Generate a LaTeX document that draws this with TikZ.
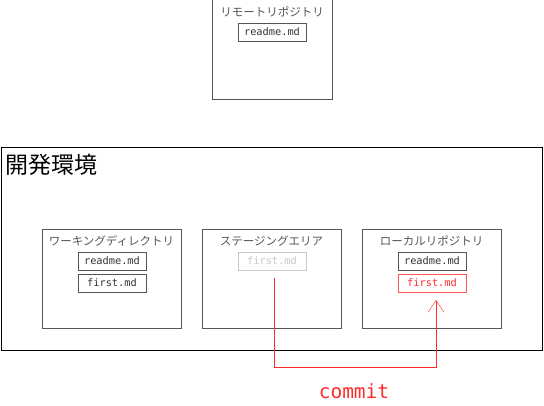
\documentclass[tikz,border=0pt]{standalone}
\usepackage{fontspec}
\setmainfont{Noto Sans CJK JP}
\newfontfamily\codefont{DejaVu Sans Mono}
\usetikzlibrary{arrows.meta,calc}
\definecolor{boxgray}{HTML}{555555}
\definecolor{fadegray}{HTML}{C8C8C8}
\definecolor{commitred}{HTML}{FF2A2A}
\tikzset{
  area/.style={draw=boxgray, minimum width=139pt, minimum height=99pt, inner sep=0pt},
  areatitle/.style={text=boxgray, font=\fontsize{11.5}{12}\selectfont, inner sep=0pt},
  filebox/.style={draw=boxgray, text=black!80, minimum width=68pt, minimum height=18pt, inner sep=0pt, font=\codefont\fontsize{10.3}{11}\selectfont},
}
\begin{document}
\begin{tikzpicture}[x=1pt, y=-1pt]
    \useasboundingbox (0,0) rectangle (544,406);

    % Remote repository
    \draw[boxgray] (212,-2) rectangle (332,99);
    \node[areatitle] (remotetitle) at (272,12) {リモートリポジトリ};
    \node[filebox] (rreadme) at (272,32) {readme.md};

    % Development environment
    \draw[black] (1,147) rectangle (542,350);
    \node[anchor=west, inner sep=0pt, font=\fontsize{23}{24}\selectfont] (devtitle) at (5,165) {開発環境};

    % Working directory
    \node[area] (work) at (111.5,278.5) {};
    \node[areatitle] (worktitle) at (111.5,241) {ワーキングディレクトリ};
    \node[filebox] (wreadme) at (112,261) {readme.md};
    \node[filebox] (wfirst) at (112,283) {first.md};

    % Staging area
    \node[area] (stage) at (271.5,278.5) {};
    \node[areatitle] (stagetitle) at (271.5,241) {ステージングエリア};
    \node[filebox, draw=fadegray, text=fadegray] (sfirst) at (272,261) {first.md};

    % Local repository
    \node[area] (local) at (431.5,278.5) {};
    \node[areatitle] (localtitle) at (431.5,241) {ローカルリポジトリ};
    \node[filebox] (lreadme) at (432,261) {readme.md};
    \node[filebox, draw=commitred!80, text=commitred] (lfirst) at (432,283) {first.md};

    % commit
    \coordinate (commitbase) at (350,367);
    \coordinate (cstart) at (274,278);
    \coordinate (cend) at (436,300);
    \draw[commitred, -{Straight Barb[length=12pt, width=16pt]}]
        (cstart) -- (cstart |- commitbase) -| (cend);
    \node[text=commitred, font=\codefont\fontsize{19.5}{20}\selectfont, inner sep=0pt] (commitlabel) at (354,391) {commit};
\end{tikzpicture}
\end{document}
